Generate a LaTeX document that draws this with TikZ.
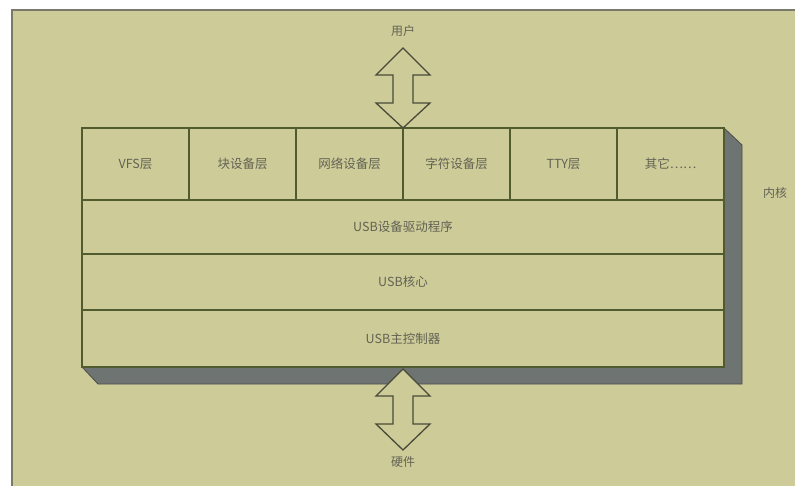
\documentclass[tikz,border=0pt]{standalone}
\usepackage{fontspec}
\newfontfamily\cjk{Noto Sans CJK SC}
\begin{document}
\begin{tikzpicture}[x=1pt,y=-1pt,
  cell/.style={draw=boxline,line width=1.2pt,fill=khaki,minimum width=107pt,minimum height=72pt,inner sep=0pt,text=txt,font=\cjk\fontsize{12.5}{14}\selectfont},
  row/.style={draw=boxline,line width=1.2pt,fill=khaki,minimum width=642pt,inner sep=0pt,text=txt,font=\cjk\fontsize{12.5}{14}\selectfont},
  lbl/.style={text=txt,font=\cjk\fontsize{12}{14}\selectfont,inner sep=0pt},
  blockarrow/.style={draw=arrline,line width=1.3pt,fill=khaki,line join=miter}
]
\definecolor{khaki}{HTML}{CDCC98}
\definecolor{boxline}{HTML}{505B30}
\definecolor{shadow}{HTML}{6E7472}
\definecolor{frame}{HTML}{7A7A6A}
\definecolor{txt}{HTML}{626254}
\definecolor{arrline}{HTML}{4A4A3A}
\useasboundingbox (0,0) rectangle (795,486);
\fill[white] (0,0) rectangle (795,486);
\draw[frame,line width=2pt,fill=khaki] (12,10) rectangle (810,500);
% shadow
\fill[shadow,draw=black!70,line width=0.8pt] (724,128) -- (742,145) -- (742,384) -- (98,384) -- (82,367) -- (724,367) -- cycle;
% rows
\node[row,minimum height=54pt] (r2) at (403,227) {USB设备驱动程序};
\node[row,minimum height=56pt] (r3) at (403,282) {USB核心};
\node[row,minimum height=57pt] (r4) at (403,338.5) {USB主控制器};
% top cells
\node[cell] (c1) at (135.5,164) {VFS层};
\node[cell] (c2) at (242.5,164) {块设备层};
\node[cell] (c3) at (349.5,164) {网络设备层};
\node[cell] (c4) at (456.5,164) {字符设备层};
\node[cell] (c5) at (563.5,164) {TTY层};
\node[cell] (c6) at (670.5,164) {其它……};
% labels
\node[lbl] (user) at (403,31) {用户};
\node[lbl] (hw) at (403,462) {硬件};
\node[lbl] (kern) at (775,193) {内核};
% top arrow
\coordinate (ta) at (403,48);
\draw[blockarrow] (ta) -- ++(27,27) -- ++(-17,0) -- ++(0,28) -- ++(17,0) -- (403,128) -- ++(-27,-25) -- ++(17,0) -- ++(0,-28) -- ++(-17,0) -- cycle;
% bottom arrow
\coordinate (ba) at (403,369);
\draw[blockarrow] (ba) -- ++(27,27) -- ++(-17,0) -- ++(0,28) -- ++(17,0) -- (403,450) -- ++(-27,-26) -- ++(17,0) -- ++(0,-28) -- ++(-17,0) -- cycle;
\end{tikzpicture}
\end{document}
